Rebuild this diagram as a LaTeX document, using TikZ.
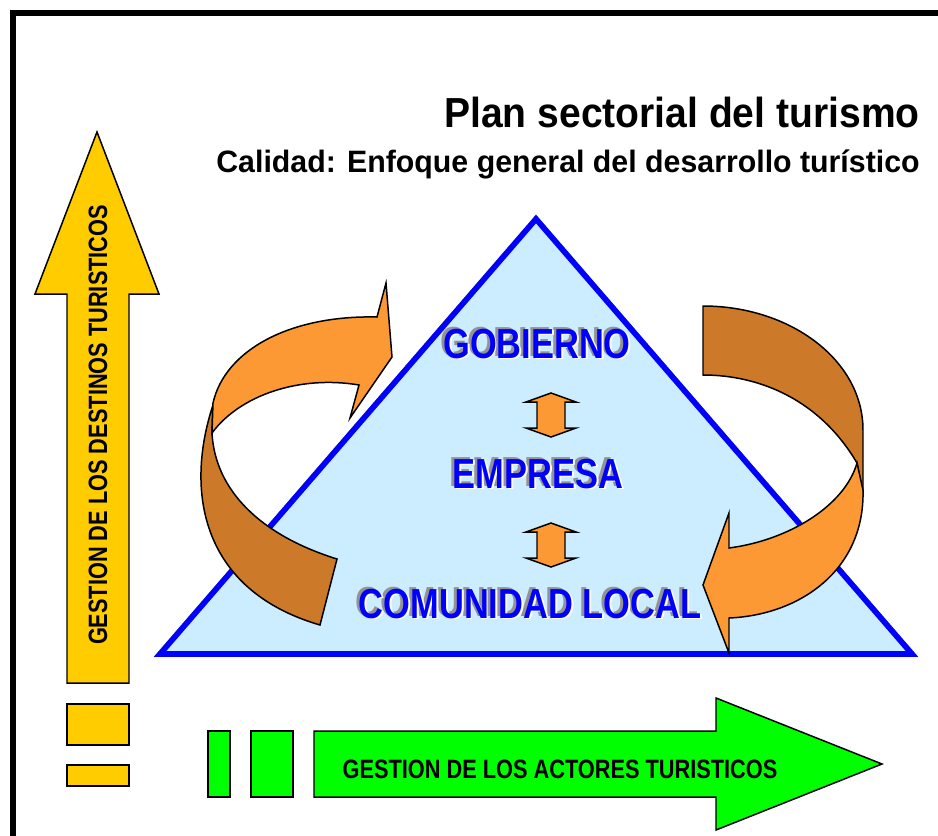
\documentclass[tikz,border=0pt]{standalone}
\usepackage{fontspec}
\setmainfont{Liberation Sans}
\newfontfamily\titlefont[FakeStretch=0.93]{Liberation Sans}
\newfontfamily\subfont[FakeStretch=0.98]{Liberation Sans}
\newfontfamily\narrowfont[FakeStretch=0.82]{Liberation Sans}
\definecolor{skyfill}{RGB}{204,236,255}
\definecolor{orangefront}{RGB}{252,153,52}
\definecolor{orangeback}{RGB}{204,122,42}
\definecolor{goldfill}{RGB}{255,204,0}
\definecolor{limefill}{RGB}{0,255,0}
\newcommand\embossed[1]{\makebox[0pt][l]{\kern-1.7pt\raisebox{1.1pt}{\color{gray!85}#1}}\makebox[0pt][l]{\kern1.1pt\raisebox{-1.1pt}{\color{white}#1}}#1}

\begin{document}
\begin{tikzpicture}[x=0.02cm,y=-0.02cm,
  outline/.style={draw=black,line width=0.85pt,line join=miter},
  level/.style={font=\narrowfont\bfseries\fontsize{23.9pt}{28pt}\selectfont,inner sep=0pt,anchor=base,text=blue},
  gesttext/.style={font=\narrowfont\bfseries\fontsize{15.1pt}{18pt}\selectfont,inner sep=0pt}]

\useasboundingbox (0,0) rectangle (938,836);

% frame
\draw[line width=3pt] (13,845) -- (13,13) -- (945,13);

% titles
\node[anchor=base east,inner sep=0pt,font=\titlefont\bfseries\fontsize{23.9pt}{28pt}\selectfont] (title) at (920,127) {Plan sectorial del turismo};
\node[anchor=base east,inner sep=0pt,font=\subfont\bfseries\fontsize{17.6pt}{21pt}\selectfont] (subtitle) at (920,172) {Calidad: Enfoque general del desarrollo turístico};

% vertical arrow
\draw[outline,fill=goldfill] (67,683) -- (67,294) -- (35,294) -- (97,132) -- (159,294) -- (129,294) -- (129,683) -- cycle;
\node[gesttext,rotate=90] (destinos) at (98,425) {GESTION DE LOS DESTINOS TURISTICOS};
\draw[outline,fill=goldfill] (67,704) rectangle (129,745);
\draw[outline,fill=goldfill] (67,765) rectangle (129,786);

% horizontal arrow
\draw[outline,fill=limefill] (208,731) rectangle (230,797);
\draw[outline,fill=limefill] (251,731) rectangle (293,797);
\draw[outline,fill=limefill] (314,731) -- (716,731) -- (716,698) -- (882,764) -- (716,830) -- (716,797) -- (314,797) -- cycle;
\node[gesttext] (actores) at (560,769) {GESTION DE LOS ACTORES TURISTICOS};

% triangle
\coordinate (A) at (536,219);
\coordinate (B) at (160,654);
\coordinate (C) at (912,654);
\draw[gray,fill=gray,line width=3.2pt,shift={(5,5)}] (A) -- (B) -- (C) -- cycle;
\draw[blue,fill=skyfill,line width=3.2pt] (A) -- (B) -- (C) -- cycle;

\node[level] (gob) at (537,358) {\embossed{GOBIERNO}};
\node[level] (emp) at (538,488) {\embossed{EMPRESA}};
\node[level] (com) at (530,618) {\embossed{COMUNIDAD LOCAL}};

\foreach \yc in {415,545}
  \draw[outline,fill=orangefront,shift={(551,\yc)}] (0,-22) -- (25,-13) -- (14,-13) -- (14,13) -- (25,13) -- (0,22) -- (-25,13) -- (-14,13) -- (-14,-13) -- (-25,-13) -- cycle;

% left curved arrow
\draw[outline,fill=orangeback] (213,405) .. controls (185,490) and (200,590) .. (320,625) -- (337,559) .. controls (260,535) and (215,490) .. (212,433) -- cycle;
\draw[outline,fill=orangefront] (213,403) .. controls (225,350) and (290,315) .. (377,317) -- (386,283) -- (392,357) -- (350,418) -- (359,385) .. controls (300,375) and (240,395) .. (212,433) -- cycle;

% right curved arrow
\draw[outline,fill=orangeback] (703,306) .. controls (790,306) and (863,360) .. (863,430) -- (863,495) -- (857,463) .. controls (820,400) and (760,375) .. (703,375) -- cycle;
\draw[outline,fill=orangefront] (863,490) .. controls (865,570) and (800,615) .. (729,618) -- (729,653) -- (703,585) -- (729,513) -- (729,548) .. controls (790,540) and (845,505) .. (857,463) -- cycle;

\end{tikzpicture}
\end{document}
